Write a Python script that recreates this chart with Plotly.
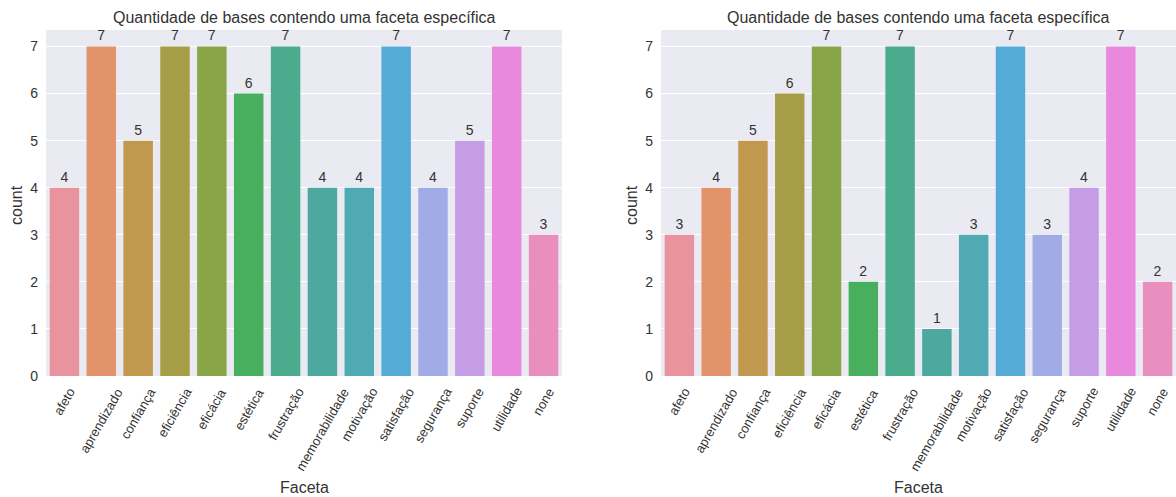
import plotly.graph_objects as go

categories = ["afeto", "aprendizado", "confiança", "eficiência", "eficácia", "estética",
              "frustração", "memorabilidade", "motivação", "satisfação", "segurança",
              "suporte", "utilidade", "none"]
counts_left = [4, 7, 5, 7, 7, 6, 7, 4, 4, 7, 4, 5, 7, 3]
counts_right = [3, 4, 5, 6, 7, 2, 7, 1, 3, 7, 3, 4, 7, 2]
colors = ["#E8939E", "#E2936A", "#C0984E", "#A69E47", "#88A547", "#48AF5E", "#4AAC8C",
          "#4DA9A0", "#50AAB4", "#54ABD6", "#A1ACE6", "#C59DE6", "#E889DD", "#E88FBF"]
title_text = "Quantidade de bases contendo uma faceta específica"

W, H = 1176, 497
FONT = "Liberation Sans, Arial, sans-serif"
TXT = "#333333"

fig = go.Figure()

domains = [(46 / W, 562 / W), (661 / W, 1.0)]
ydom = (1 - 376 / H, 1 - 30 / H)

for i, vals in enumerate([counts_left, counts_right]):
    xa = "x" if i == 0 else "x2"
    ya = "y" if i == 0 else "y2"
    fig.add_trace(go.Bar(
        x=categories, y=vals, xaxis=xa, yaxis=ya,
        marker=dict(color=colors, line=dict(width=0)),
        text=[str(v) for v in vals], textposition="outside",
        textfont=dict(size=14, color=TXT, family=FONT),
        cliponaxis=False, showlegend=False, hoverinfo="x+y",
    ))

axis_common_x = dict(
    showgrid=False, zeroline=False, ticks="", showticklabels=False, showline=False,
    range=[-0.5, 13.5], automargin=False, categoryorder="array", categoryarray=categories,
)
axis_common_y = dict(
    showgrid=True, gridcolor="white", gridwidth=1, zeroline=False, ticks="",
    tickfont=dict(size=14, color=TXT, family=FONT), range=[0, 7.35],
    tickvals=list(range(8)), automargin=False, showline=False, ticklabelstandoff=7,
)

fig.update_layout(
    width=W, height=H,
    margin=dict(l=0, r=0, t=0, b=0),
    paper_bgcolor="white", plot_bgcolor="#EAEAF2",
    bargap=0.2, font=dict(family=FONT, color=TXT),
    xaxis=dict(domain=list(domains[0]), anchor="y", **axis_common_x),
    yaxis=dict(domain=list(ydom), anchor="x", **axis_common_y),
    xaxis2=dict(domain=list(domains[1]), anchor="y2", **axis_common_x),
    yaxis2=dict(domain=list(ydom), anchor="x2", **axis_common_y),
)

annotations = []
for k, (d0, d1) in enumerate(domains):
    cx = (d0 + d1) / 2
    xr = "x" if k == 0 else "x2"
    annotations.append(dict(text=title_text, x=cx, y=1 - 17 / H, xref="paper", yref="paper",
                            showarrow=False, font=dict(size=16, color=TXT, family=FONT),
                            xanchor="center", yanchor="middle"))
    annotations.append(dict(text="Faceta", x=cx, y=1 - 487 / H, xref="paper", yref="paper",
                            showarrow=False, font=dict(size=16, color=TXT, family=FONT),
                            xanchor="center", yanchor="middle"))
    annotations.append(dict(text="count", x=d0 - 29 / W, y=1 - 205 / H, xref="paper", yref="paper",
                            showarrow=False, textangle=-90,
                            font=dict(size=16, color=TXT, family=FONT),
                            xanchor="center", yanchor="middle"))
    for c in categories:
        annotations.append(dict(text=c, x=c, xref=xr, y=1 - 384 / H, yref="paper",
                                showarrow=False, textangle=-60, borderpad=0,
                                font=dict(size=13, color=TXT, family=FONT),
                                xanchor="center", yanchor="top"))
fig.update_layout(annotations=annotations)

fig.write_html("out.html")
